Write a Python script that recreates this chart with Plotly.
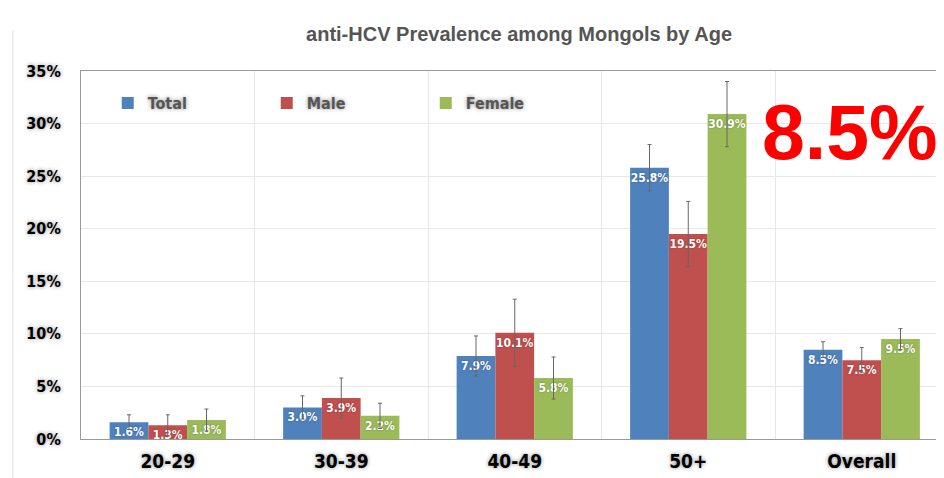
import plotly.graph_objects as go

categories = ["20-29", "30-39", "40-49", "50+", "Overall"]
total = [1.6, 3.0, 7.9, 25.8, 8.5]
male = [1.3, 3.9, 10.1, 19.5, 7.5]
female = [1.8, 2.2, 5.8, 30.9, 9.5]
total_err = [0.7, 1.1, 1.9, 2.2, 0.75]
male_err = [1.0, 1.9, 3.2, 3.1, 1.2]
female_err = [1.05, 1.2, 2.0, 3.1, 1.0]
y_ticks = [0, 5, 10, 15, 20, 25, 30, 35]
overall_label = "8.5%"

x_pos = list(range(len(categories)))
COND = "DejaVu Sans Condensed, Liberation Sans Narrow, sans-serif"
SHADOW = "0px 0px 4px rgba(0,0,0,0.45)"

series = [
    ("Total", total, total_err, "#4F81BD"),
    ("Male", male, male_err, "#C0504D"),
    ("Female", female, female_err, "#9BBB59"),
]

fig = go.Figure()
for name, vals, errs, color in series:
    fig.add_trace(go.Bar(
        name=name, x=x_pos, y=vals,
        marker=dict(color=color, line=dict(width=0)),
        error_y=dict(type="data", array=errs, visible=True,
                     color="#666666", thickness=1, width=2),
        texttemplate="<b>%{y:.1f}%</b>",
        textposition="inside", insidetextanchor="end", textangle=0,
        constraintext="none",
        insidetextfont=dict(family=COND, size=12, color="white",
                            shadow="0px 0px 2px rgba(0,0,0,0.35)"),
        cliponaxis=False,
    ))

fig.update_layout(
    width=936, height=470,
    margin=dict(l=73, r=0, t=63, b=39),
    paper_bgcolor="white", plot_bgcolor="white",
    barmode="group", bargap=0.33, bargroupgap=0,
    title=dict(text="<b>anti-HCV Prevalence among Mongols by Age</b>",
               x=0.546, xanchor="center", y=0.945, yanchor="middle",
               font=dict(family="Liberation Sans, Arial, sans-serif", size=20, color="#555555")),
    legend=dict(orientation="h", x=0.031, y=0.913, xanchor="left", yanchor="middle",
                bgcolor="rgba(0,0,0,0)", entrywidth=114, entrywidthmode="pixels",
                font=dict(family=COND, size=16, color="#555555", weight="bold", shadow=SHADOW),
                traceorder="normal"),
    showlegend=True,
)

fig.update_xaxes(
    range=[-0.5, 4.474], tickmode="array", tickvals=x_pos,
    ticktext=["<b>%s</b>" % c for c in categories],
    tickfont=dict(family=COND, size=19, color="black", shadow=SHADOW),
    showgrid=False, zeroline=False, showline=True, linecolor="#999999",
    linewidth=1, mirror=True, ticks="", ticklabelstandoff=5,
    minor=dict(tickmode="array", tickvals=[v + 0.5 for v in x_pos],
               showgrid=True, gridcolor="#e8e8e8", gridwidth=1, ticks=""),
)
fig.update_yaxes(
    range=[0, 35], tickmode="array", tickvals=y_ticks,
    ticktext=["<b>%d%%</b>" % v for v in y_ticks],
    tickfont=dict(family=COND, size=16, color="black", shadow=SHADOW),
    showgrid=True, gridcolor="#e8e8e8", gridwidth=1,
    zeroline=False, showline=True, linecolor="#999999", linewidth=1,
    ticks="", ticklabelstandoff=16,
)

fig.add_annotation(
    text="<b>%s</b>" % overall_label, xref="paper", yref="paper",
    x=0.891, y=0.834, xanchor="center", yanchor="middle", showarrow=False,
    font=dict(family="Liberation Sans, Arial, sans-serif", size=77, color="#FF0000"),
)

fig.add_shape(type="line", xref="paper", yref="paper",
              x0=-0.079, x1=-0.079, y0=-0.2, y1=1.111,
              line=dict(color="#e0e0e0", width=1))

fig.write_html("out.html")
